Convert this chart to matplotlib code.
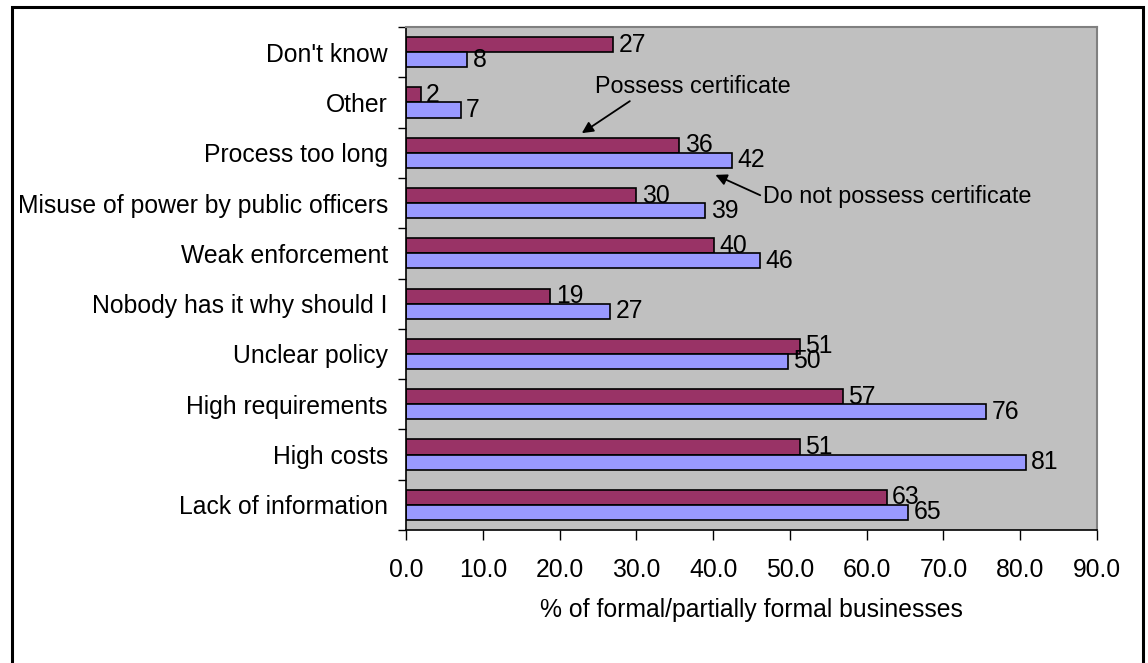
import numpy as np
import matplotlib
matplotlib.use('Agg')
import matplotlib.pyplot as plt
from matplotlib.patches import Rectangle

# categorias de baixo para cima
categorias = ['Lack of information', 'High costs', 'High requirements', 'Unclear policy',
              'Nobody has it why should I', 'Weak enforcement',
              'Misuse of power by public officers', 'Process too long', 'Other', "Don't know"]
possui = [62.6, 51.3, 56.9, 51.3, 18.8, 40.1, 30.0, 35.6, 1.9, 27.0]
nao_possui = [65.4, 80.7, 75.6, 49.7, 26.6, 46.1, 39.0, 42.4, 7.1, 8.0]
xticks = [0, 10, 20, 30, 40, 50, 60, 70, 80, 90]

plt.rcParams['font.family'] = ['Liberation Sans', 'DejaVu Sans']
plt.rcParams['font.size'] = 17.8

fig = plt.figure(figsize=(11.48, 6.63), dpi=100)
ax = fig.add_axes([406/1148, 1-530/663, (1097-406)/1148, (530-27)/663])
ax.set_facecolor('#C0C0C0')

y = np.arange(len(categorias))
h = 0.3
ax.barh(y + h/2, possui, height=h, color='#993366', edgecolor='black', linewidth=1.2, zorder=2)
ax.barh(y - h/2, nao_possui, height=h, color='#9999FF', edgecolor='black', linewidth=1.2, zorder=2)

for j in range(len(categorias)):
    ax.annotate(f"{possui[j]:.0f}", (possui[j], y[j] + h/2), xytext=(4, 0),
                textcoords='offset points', va='center', ha='left', zorder=4)
    ax.annotate(f"{nao_possui[j]:.0f}", (nao_possui[j], y[j] - h/2), xytext=(4, 0),
                textcoords='offset points', va='center', ha='left', zorder=4)

ax.set_xlim(0, 90)
ax.set_ylim(-0.5, len(categorias) - 0.5)
ax.set_xticks(xticks)
ax.set_xticklabels([f"{v:.1f}" for v in xticks])
ax.set_yticks(y)
ax.set_yticklabels(categorias)
ax.set_yticks(np.arange(-0.5, len(categorias), 1), minor=True)
ax.tick_params(axis='y', which='major', length=0, pad=13)
ax.tick_params(axis='y', which='minor', length=6, width=1, color='black')
ax.tick_params(axis='x', which='major', length=7, width=1, pad=13, direction='out')
ax.set_xlabel('% of formal/partially formal businesses', labelpad=12)

for lado in ['left', 'bottom']:
    ax.spines[lado].set_color('black')
    ax.spines[lado].set_linewidth(1.2)
for lado in ['top', 'right']:
    ax.spines[lado].set_color('#808080')
    ax.spines[lado].set_linewidth(1.5)

ax.annotate('Possess certificate', xy=(22.9, 7.39), xytext=(24.6, 8.31),
            va='center', ha='left', zorder=5, fontsize=16.8,
            arrowprops=dict(arrowstyle='-|>', color='black', lw=1.3,
                            shrinkA=0, shrinkB=0, relpos=(0.2, 0.0)))
ax.annotate('Do not possess certificate', xy=(40.3, 6.56), xytext=(46.5, 6.13),
            va='center', ha='left', zorder=5, fontsize=16.8,
            arrowprops=dict(arrowstyle='-|>', color='black', lw=1.3,
                            shrinkA=0, shrinkB=0, relpos=(0.0, 0.5)))

# moldura externa
fig.patches.append(Rectangle((12/1148, -0.05), (1143-12)/1148, 1.05 - 7/663,
                             transform=fig.transFigure, fill=False,
                             edgecolor='black', linewidth=2.2))

fig.savefig('out.png', dpi=100)
